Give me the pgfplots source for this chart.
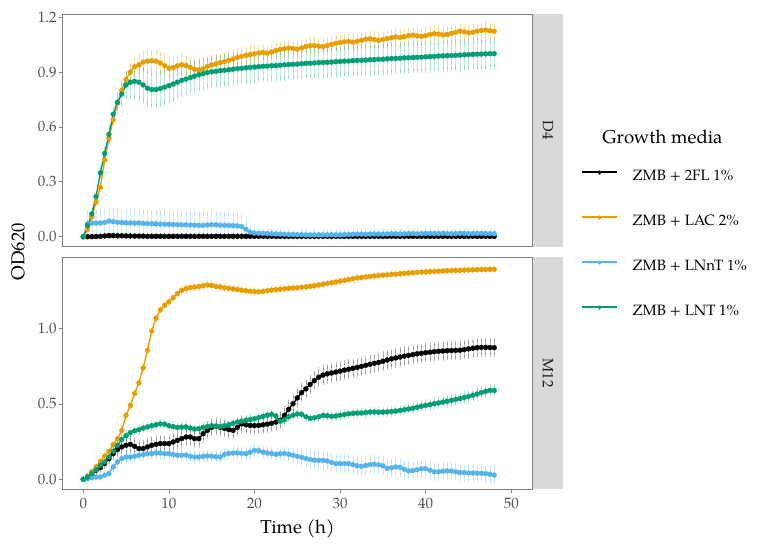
\documentclass[border=0pt]{standalone}
\usepackage{fontspec}
\setmainfont{texgyrepagella-regular.otf}
\usepackage{pgfplots}
\usepackage{pgfplotstable}
\pgfplotsset{compat=1.18}
\definecolor{c2fl}{HTML}{000000}
\definecolor{clac}{HTML}{E69F00}
\definecolor{clnnt}{HTML}{56B4E9}
\definecolor{clnt}{HTML}{009E73}
\definecolor{stripgray}{HTML}{D9D9D9}
\definecolor{tickgray}{HTML}{4D4D4D}
\definecolor{bordergray}{HTML}{808080}
\definecolor{stripfg}{HTML}{1A1A1A}

\pgfplotstableread{
t k ke o oe b be g ge
0 0.000 0.000 0.000 0.000 0.000 0.000 0.000 0.000
0.5 0.000 0.003 0.040 0.010 0.070 0.065 0.060 0.020
1 0.000 0.003 0.110 0.010 0.074 0.065 0.125 0.020
1.5 0.001 0.003 0.190 0.010 0.075 0.065 0.220 0.020
2 0.002 0.003 0.270 0.015 0.075 0.065 0.350 0.025
2.5 0.004 0.004 0.420 0.020 0.078 0.065 0.455 0.030
3 0.006 0.004 0.540 0.020 0.085 0.065 0.560 0.040
3.5 0.006 0.004 0.640 0.025 0.082 0.065 0.670 0.040
4 0.005 0.004 0.730 0.025 0.079 0.065 0.735 0.050
4.5 0.005 0.004 0.800 0.030 0.077 0.065 0.780 0.060
5 0.004 0.004 0.860 0.035 0.076 0.065 0.830 0.070
5.5 0.004 0.004 0.900 0.045 0.075 0.065 0.845 0.080
6 0.003 0.004 0.930 0.050 0.074 0.065 0.850 0.090
6.5 0.003 0.004 0.940 0.050 0.075 0.065 0.845 0.090
7 0.003 0.004 0.955 0.050 0.073 0.065 0.830 0.090
7.5 0.002 0.004 0.960 0.050 0.072 0.065 0.812 0.090
8 0.002 0.004 0.962 0.050 0.071 0.065 0.805 0.090
8.5 0.002 0.004 0.960 0.050 0.070 0.065 0.805 0.090
9 0.002 0.004 0.950 0.050 0.069 0.065 0.810 0.090
9.5 0.002 0.004 0.935 0.050 0.068 0.065 0.818 0.090
10 0.002 0.004 0.922 0.050 0.068 0.065 0.826 0.085
10.5 0.002 0.004 0.925 0.050 0.067 0.065 0.835 0.085
11 0.002 0.004 0.935 0.050 0.066 0.065 0.845 0.080
11.5 0.002 0.004 0.940 0.050 0.065 0.065 0.855 0.080
12 0.002 0.004 0.936 0.045 0.065 0.065 0.862 0.080
12.5 0.002 0.004 0.926 0.045 0.064 0.065 0.870 0.080
13 0.002 0.004 0.916 0.045 0.063 0.065 0.878 0.080
13.5 0.002 0.004 0.912 0.045 0.062 0.065 0.886 0.080
14 0.002 0.004 0.918 0.040 0.062 0.065 0.892 0.080
14.5 0.002 0.004 0.930 0.040 0.064 0.065 0.898 0.080
15 0.002 0.004 0.940 0.040 0.066 0.065 0.902 0.080
15.5 0.002 0.004 0.945 0.040 0.065 0.065 0.905 0.080
16 0.002 0.004 0.952 0.040 0.063 0.065 0.908 0.080
16.5 0.002 0.004 0.958 0.040 0.062 0.065 0.910 0.080
17 0.002 0.004 0.965 0.040 0.061 0.065 0.913 0.080
17.5 0.002 0.004 0.972 0.040 0.060 0.065 0.916 0.080
18 0.002 0.004 0.980 0.040 0.059 0.065 0.919 0.080
18.5 0.002 0.004 0.986 0.040 0.055 0.060 0.921 0.080
19 0.002 0.004 0.992 0.040 0.040 0.045 0.924 0.080
19.5 0.002 0.004 0.996 0.040 0.025 0.030 0.926 0.080
20 0.002 0.004 1.000 0.040 0.020 0.020 0.928 0.075
20.5 0.002 0.004 1.005 0.035 0.019 0.020 0.930 0.075
21 0.002 0.004 1.008 0.035 0.018 0.020 0.932 0.075
21.5 0.002 0.004 1.004 0.035 0.017 0.020 0.933 0.075
22 0.002 0.004 1.010 0.035 0.016 0.020 0.935 0.075
22.5 0.002 0.004 1.018 0.035 0.015 0.020 0.936 0.075
23 0.002 0.004 1.024 0.035 0.014 0.020 0.938 0.075
23.5 0.002 0.004 1.028 0.035 0.013 0.020 0.940 0.075
24 0.002 0.004 1.032 0.035 0.012 0.020 0.942 0.075
24.5 0.002 0.004 1.030 0.035 0.012 0.020 0.943 0.075
25 0.002 0.004 1.026 0.035 0.011 0.020 0.944 0.075
25.5 0.002 0.004 1.032 0.035 0.011 0.020 0.946 0.075
26 0.002 0.004 1.040 0.035 0.010 0.020 0.948 0.075
26.5 0.002 0.004 1.044 0.035 0.010 0.020 0.949 0.075
27 0.002 0.004 1.046 0.035 0.010 0.020 0.950 0.075
27.5 0.002 0.004 1.042 0.035 0.010 0.020 0.952 0.075
28 0.002 0.004 1.040 0.035 0.010 0.020 0.953 0.075
28.5 0.002 0.004 1.046 0.035 0.010 0.020 0.954 0.075
29 0.002 0.004 1.052 0.035 0.011 0.020 0.955 0.075
29.5 0.002 0.004 1.058 0.035 0.010 0.020 0.957 0.075
30 0.002 0.004 1.062 0.035 0.010 0.020 0.958 0.075
30.5 0.002 0.004 1.066 0.035 0.011 0.020 0.960 0.075
31 0.002 0.004 1.068 0.035 0.012 0.020 0.961 0.075
31.5 0.002 0.004 1.064 0.035 0.013 0.020 0.963 0.075
32 0.002 0.004 1.068 0.035 0.014 0.020 0.964 0.075
32.5 0.002 0.004 1.074 0.035 0.014 0.020 0.965 0.075
33 0.002 0.004 1.080 0.035 0.013 0.020 0.966 0.075
33.5 0.002 0.004 1.082 0.035 0.014 0.020 0.968 0.075
34 0.002 0.004 1.078 0.035 0.015 0.020 0.969 0.075
34.5 0.002 0.004 1.074 0.035 0.015 0.020 0.970 0.075
35 0.002 0.004 1.078 0.035 0.014 0.020 0.971 0.075
35.5 0.002 0.004 1.084 0.035 0.015 0.020 0.973 0.075
36 0.002 0.004 1.088 0.035 0.016 0.020 0.974 0.075
36.5 0.002 0.004 1.092 0.035 0.016 0.020 0.975 0.075
37 0.002 0.004 1.090 0.035 0.015 0.020 0.976 0.075
37.5 0.002 0.004 1.094 0.035 0.016 0.020 0.978 0.075
38 0.002 0.004 1.100 0.035 0.017 0.020 0.979 0.075
38.5 0.002 0.004 1.102 0.035 0.017 0.020 0.980 0.075
39 0.002 0.004 1.098 0.035 0.016 0.020 0.981 0.075
39.5 0.002 0.004 1.096 0.035 0.017 0.020 0.982 0.075
40 0.002 0.004 1.100 0.035 0.018 0.020 0.984 0.075
40.5 0.002 0.004 1.106 0.035 0.018 0.020 0.985 0.075
41 0.002 0.004 1.110 0.035 0.017 0.020 0.986 0.075
41.5 0.002 0.004 1.108 0.035 0.017 0.020 0.988 0.075
42 0.002 0.004 1.104 0.035 0.018 0.020 0.989 0.075
42.5 0.002 0.004 1.106 0.035 0.017 0.020 0.990 0.075
43 0.002 0.004 1.112 0.035 0.016 0.020 0.991 0.075
43.5 0.002 0.004 1.118 0.035 0.017 0.020 0.992 0.075
44 0.002 0.004 1.124 0.035 0.018 0.020 0.993 0.075
44.5 0.002 0.004 1.120 0.035 0.018 0.020 0.995 0.075
45 0.002 0.004 1.116 0.035 0.017 0.020 0.996 0.075
45.5 0.002 0.004 1.118 0.035 0.017 0.020 0.997 0.075
46 0.002 0.004 1.124 0.035 0.018 0.020 0.998 0.075
46.5 0.002 0.004 1.128 0.035 0.018 0.020 0.999 0.075
47 0.002 0.004 1.130 0.035 0.017 0.020 1.000 0.075
47.5 0.002 0.004 1.126 0.035 0.017 0.020 1.001 0.075
48 0.002 0.004 1.124 0.035 0.016 0.020 1.001 0.075
}\topdata

\pgfplotstableread{
t k ke o oe b be g ge
0 0.000 0.000 0.000 0.000 0.000 0.000 0.000 0.000
0.5 0.015 0.010 0.020 0.008 0.004 0.008 0.015 0.010
1 0.038 0.012 0.050 0.008 0.010 0.008 0.038 0.012
1.5 0.060 0.015 0.082 0.010 0.015 0.010 0.064 0.015
2 0.077 0.018 0.120 0.010 0.015 0.010 0.093 0.015
2.5 0.104 0.020 0.155 0.010 0.027 0.012 0.115 0.018
3 0.137 0.025 0.186 0.010 0.038 0.015 0.148 0.020
3.5 0.170 0.030 0.230 0.012 0.082 0.025 0.186 0.025
4 0.197 0.035 0.270 0.012 0.115 0.030 0.226 0.030
4.5 0.215 0.040 0.325 0.012 0.137 0.030 0.265 0.030
5 0.226 0.045 0.425 0.012 0.148 0.030 0.290 0.025
5.5 0.232 0.045 0.490 0.012 0.148 0.030 0.310 0.020
6 0.219 0.045 0.570 0.012 0.153 0.030 0.322 0.020
6.5 0.204 0.045 0.640 0.012 0.160 0.030 0.330 0.020
7 0.204 0.045 0.740 0.012 0.164 0.030 0.340 0.020
7.5 0.215 0.045 0.857 0.012 0.170 0.030 0.348 0.020
8 0.226 0.045 0.985 0.012 0.170 0.030 0.356 0.020
8.5 0.232 0.045 1.070 0.012 0.175 0.030 0.362 0.020
9 0.237 0.045 1.125 0.012 0.175 0.030 0.368 0.020
9.5 0.237 0.045 1.155 0.012 0.170 0.030 0.366 0.020
10 0.237 0.045 1.178 0.015 0.170 0.030 0.356 0.020
10.5 0.248 0.045 1.206 0.015 0.164 0.030 0.350 0.020
11 0.259 0.045 1.233 0.018 0.160 0.030 0.344 0.020
11.5 0.270 0.045 1.255 0.018 0.160 0.030 0.346 0.020
12 0.281 0.045 1.266 0.020 0.160 0.030 0.348 0.020
12.5 0.281 0.045 1.273 0.020 0.153 0.030 0.340 0.020
13 0.270 0.045 1.277 0.020 0.148 0.030 0.334 0.020
13.5 0.270 0.045 1.280 0.020 0.148 0.030 0.336 0.020
14 0.303 0.045 1.285 0.020 0.153 0.030 0.344 0.020
14.5 0.325 0.045 1.290 0.020 0.155 0.030 0.350 0.020
15 0.345 0.045 1.287 0.020 0.153 0.030 0.356 0.020
15.5 0.352 0.045 1.280 0.018 0.150 0.030 0.352 0.020
16 0.345 0.045 1.277 0.018 0.148 0.030 0.350 0.020
16.5 0.338 0.045 1.272 0.015 0.165 0.030 0.356 0.020
17 0.330 0.045 1.268 0.015 0.172 0.030 0.362 0.020
17.5 0.325 0.045 1.264 0.015 0.175 0.030 0.372 0.020
18 0.345 0.045 1.260 0.015 0.175 0.030 0.380 0.020
18.5 0.368 0.045 1.256 0.015 0.172 0.030 0.386 0.020
19 0.362 0.045 1.252 0.015 0.170 0.030 0.392 0.020
19.5 0.358 0.045 1.248 0.015 0.180 0.030 0.396 0.020
20 0.356 0.045 1.246 0.015 0.192 0.030 0.402 0.020
20.5 0.358 0.045 1.245 0.012 0.190 0.030 0.410 0.020
21 0.362 0.045 1.248 0.012 0.180 0.030 0.418 0.020
21.5 0.366 0.045 1.252 0.012 0.175 0.030 0.426 0.020
22 0.372 0.045 1.256 0.012 0.170 0.030 0.432 0.020
22.5 0.380 0.045 1.259 0.012 0.166 0.030 0.420 0.020
23 0.392 0.045 1.262 0.012 0.170 0.030 0.385 0.020
23.5 0.425 0.050 1.265 0.012 0.172 0.030 0.395 0.020
24 0.465 0.050 1.268 0.012 0.166 0.035 0.415 0.020
24.5 0.502 0.050 1.270 0.012 0.160 0.035 0.425 0.020
25 0.540 0.050 1.272 0.012 0.153 0.040 0.434 0.020
25.5 0.575 0.050 1.275 0.012 0.146 0.045 0.432 0.020
26 0.600 0.050 1.278 0.012 0.138 0.050 0.415 0.020
26.5 0.630 0.050 1.281 0.012 0.132 0.050 0.405 0.020
27 0.655 0.050 1.285 0.012 0.127 0.050 0.408 0.020
27.5 0.678 0.050 1.290 0.012 0.126 0.050 0.415 0.020
28 0.692 0.050 1.296 0.012 0.126 0.050 0.424 0.020
28.5 0.700 0.050 1.300 0.012 0.122 0.050 0.422 0.020
29 0.706 0.050 1.305 0.012 0.112 0.050 0.418 0.020
29.5 0.712 0.050 1.310 0.012 0.104 0.050 0.420 0.020
30 0.718 0.050 1.316 0.012 0.104 0.050 0.425 0.020
30.5 0.725 0.050 1.320 0.012 0.104 0.050 0.430 0.020
31 0.731 0.050 1.326 0.012 0.104 0.050 0.435 0.020
31.5 0.737 0.050 1.332 0.012 0.098 0.050 0.438 0.020
32 0.743 0.050 1.337 0.012 0.090 0.050 0.440 0.020
32.5 0.750 0.050 1.340 0.012 0.086 0.050 0.440 0.020
33 0.757 0.050 1.344 0.012 0.092 0.050 0.444 0.020
33.5 0.764 0.050 1.347 0.012 0.098 0.050 0.447 0.020
34 0.770 0.050 1.350 0.012 0.100 0.050 0.447 0.020
34.5 0.776 0.050 1.353 0.012 0.096 0.050 0.446 0.020
35 0.784 0.050 1.355 0.012 0.090 0.050 0.446 0.020
35.5 0.792 0.050 1.358 0.012 0.072 0.050 0.448 0.020
36 0.800 0.050 1.360 0.012 0.076 0.050 0.450 0.020
36.5 0.806 0.050 1.362 0.012 0.082 0.050 0.453 0.020
37 0.812 0.050 1.365 0.012 0.080 0.050 0.457 0.020
37.5 0.818 0.050 1.367 0.012 0.066 0.050 0.462 0.022
38 0.823 0.050 1.370 0.012 0.056 0.050 0.467 0.022
38.5 0.828 0.050 1.372 0.012 0.058 0.050 0.472 0.022
39 0.833 0.050 1.374 0.012 0.064 0.050 0.478 0.022
39.5 0.837 0.050 1.376 0.012 0.070 0.050 0.485 0.025
40 0.841 0.050 1.377 0.012 0.070 0.050 0.491 0.025
40.5 0.844 0.050 1.379 0.012 0.060 0.050 0.496 0.025
41 0.847 0.050 1.380 0.012 0.050 0.045 0.502 0.025
41.5 0.850 0.050 1.382 0.012 0.050 0.045 0.507 0.025
42 0.852 0.050 1.383 0.012 0.054 0.045 0.513 0.025
42.5 0.854 0.050 1.385 0.012 0.056 0.045 0.518 0.028
43 0.855 0.050 1.386 0.012 0.055 0.045 0.524 0.028
43.5 0.856 0.050 1.387 0.012 0.050 0.045 0.530 0.028
44 0.857 0.050 1.388 0.012 0.045 0.045 0.536 0.028
44.5 0.861 0.050 1.389 0.012 0.044 0.045 0.543 0.030
45 0.866 0.050 1.390 0.012 0.042 0.045 0.550 0.030
45.5 0.870 0.050 1.391 0.012 0.042 0.045 0.558 0.030
46 0.874 0.050 1.392 0.012 0.041 0.045 0.566 0.030
46.5 0.876 0.050 1.393 0.012 0.040 0.045 0.575 0.030
47 0.876 0.050 1.393 0.012 0.038 0.045 0.584 0.030
47.5 0.875 0.050 1.394 0.012 0.034 0.045 0.590 0.030
48 0.874 0.050 1.394 0.012 0.028 0.045 0.590 0.030
}\botdata

\pgfplotsset{
  facet/.style={
    scale only axis, width=469.6bp,
    xmin=-2.4, xmax=52.45,
    axis line style={bordergray, line width=0.7bp},
    tick align=outside, major tick length=3.7bp,
    tick style={bordergray, line width=0.7bp},
    xtick pos=bottom, ytick pos=left,
    ticklabel style={font=\fontsize{15}{18}\selectfont, text=tickgray},
    /pgf/number format/assume math mode=true,
    yticklabel style={inner sep=0pt, xshift=-2.3bp,
      /pgf/number format/fixed, /pgf/number format/fixed zerofill,
      /pgf/number format/precision=1},
    xticklabel style={inner sep=0pt, yshift=-5bp},
  },
  ser/.style={color=#1, line width=1.4bp, mark=*, mark size=2.5bp,
    mark options={solid, fill=#1, draw=#1, line width=0.3bp},
    error bars/y dir=both, error bars/y explicit,
    error bars/error bar style={color=#1, opacity=0.25, line width=0.6bp},
    error bars/error mark options={color=#1, opacity=0.25, line width=0.6bp, mark size=2.2bp}},
}

\begin{document}
\begin{tikzpicture}
\useasboundingbox (0bp,0bp) rectangle (759bp,546bp);

% top facet D4
\begin{axis}[facet, at={(62.7bp,299.3bp)}, anchor=south west, height=232.4bp,
  ymin=-0.0547, ymax=1.2164, ytick={0,0.3,0.6,0.9,1.2}, xtick=\empty]
\addplot[ser=c2fl] table[x=t, y=k, y error=ke] {\topdata};
\addplot[ser=clac] table[x=t, y=o, y error=oe] {\topdata};
\addplot[ser=clnnt] table[x=t, y=b, y error=be] {\topdata};
\addplot[ser=clnt] table[x=t, y=g, y error=ge] {\topdata};
\end{axis}

% bottom facet M12
\begin{axis}[facet, at={(62.7bp,57bp)}, anchor=south west, height=231.7bp,
  ymin=-0.0644, ymax=1.474, ytick={0,0.5,1}, xtick={0,10,20,30,40,50},
  legend cell align=left,
  legend style={at={(axis description cs:1.1037,1.3768)}, anchor=north west,
    draw=none, fill=none, inner sep=0pt, outer sep=0pt,
    font=\fontsize{15}{18}\selectfont, row sep=30bp,
    nodes={inner sep=0pt, text height=11bp, text depth=4bp}},
  legend image code/.code={%
    \draw[#1, mark=none, line width=2bp] (0bp,5bp) -- (35bp,5bp);
    \draw[mark repeat=2,mark phase=2,#1, draw=none, every mark/.append style={scale=0.75}]
      plot coordinates {(0bp,5bp) (17.5bp,5bp) (35bp,5bp)};
    \path (0bp,5bp) (50bp,5bp);}]
\addplot[ser=c2fl] table[x=t, y=k, y error=ke] {\botdata};
\addlegendentry{ZMB + 2FL 1\%}
\addplot[ser=clac] table[x=t, y=o, y error=oe] {\botdata};
\addlegendentry{ZMB + LAC 2\%}
\addplot[ser=clnnt] table[x=t, y=b, y error=be] {\botdata};
\addlegendentry{ZMB + LNnT 1\%}
\addplot[ser=clnt] table[x=t, y=g, y error=ge] {\botdata};
\addlegendentry{ZMB + LNT 1\%}
\end{axis}

% strips
\fill[stripgray] (533bp,299.3bp) rectangle (563bp,531.7bp);
\fill[stripgray] (533bp,57bp) rectangle (563bp,288.7bp);
\node[rotate=-90, text=stripfg, font=\fontsize{15}{18}\selectfont] at (548bp,415.5bp) {D4};
\node[rotate=-90, text=stripfg, font=\fontsize{15}{18}\selectfont] at (548bp,172.8bp) {M12};

% axis titles
\node[rotate=90, font=\fontsize{18.7}{22}\selectfont] at (18bp,294.3bp) {OD620};
\node[anchor=base, font=\fontsize{18.7}{22}\selectfont] at (297.5bp,12.7bp) {Time (h)};

% legend title
\node[anchor=base, font=\fontsize{18.7}{22}\selectfont] at (662.5bp,402.5bp) {Growth media};
\end{tikzpicture}
\end{document}
